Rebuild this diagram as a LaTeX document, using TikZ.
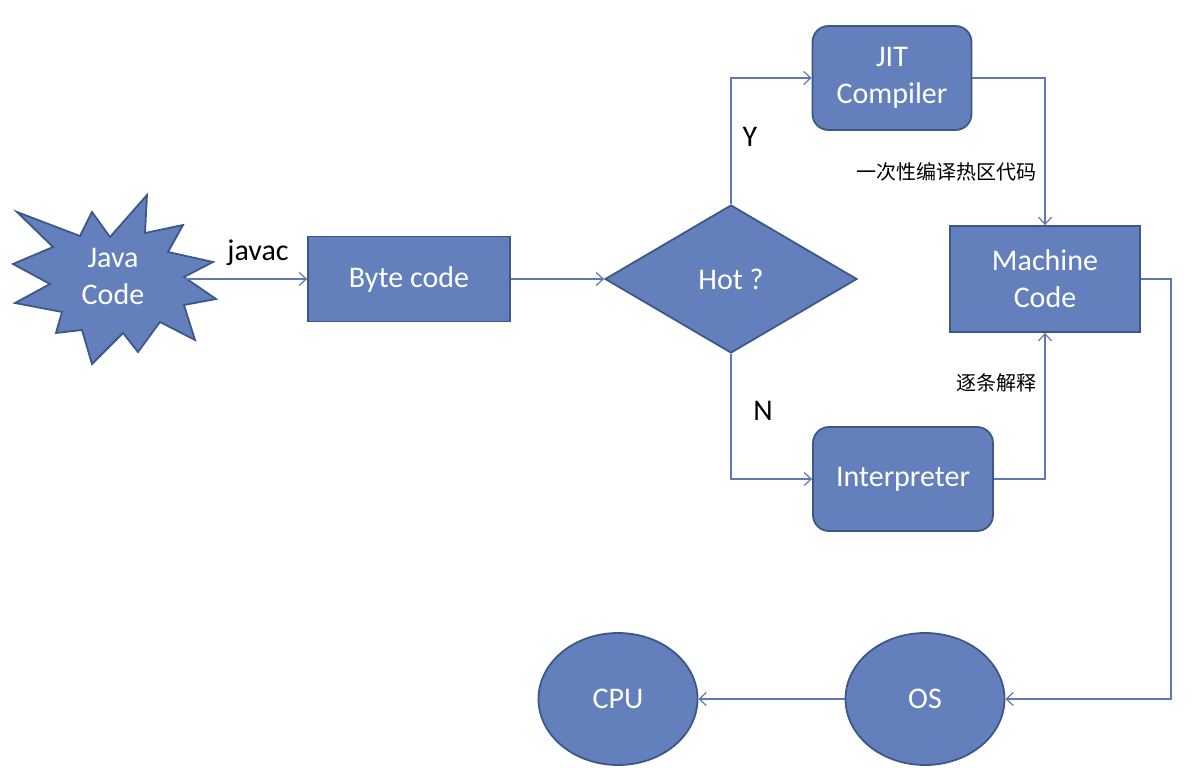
\documentclass[tikz,border=0pt]{standalone}
\usepackage{fontspec}
\setmainfont{Carlito}
\newfontfamily\cjk{Noto Sans CJK SC}
\usepackage{tikz}
\usetikzlibrary{shapes.geometric,arrows.meta}
\definecolor{boxfill}{RGB}{99,128,188}
\definecolor{boxline}{RGB}{60,88,138}
\definecolor{connline}{RGB}{92,122,176}
\begin{document}
\begin{tikzpicture}[
    x=1pt, y=-1pt,
    box/.style={draw=boxline, line width=1.8pt, fill=boxfill, text=white,
      font=\fontsize{30}{37}\selectfont, align=center, inner sep=0pt},
    rbox/.style={box, rounded corners=16pt},
    ball/.style={box, ellipse, minimum width=159pt, minimum height=132pt},
    conn/.style={draw=connline, line width=1.2pt,
      -{Straight Barb[length=7pt,width=13pt,line width=1.2pt]}},
    lbl/.style={font=\fontsize{30}{36}\selectfont, inner sep=0pt},
    note/.style={font=\cjk\fontsize{20}{24}\selectfont, inner sep=0pt, anchor=east}
    ]
    \useasboundingbox (0,0) rectangle (1200,768);
    \draw[boxline, line width=1.8pt, fill=boxfill, line join=miter]
      (17,212) -- (80,236) -- (92,212) -- (110,237) -- (147,195) -- (145,233)
      -- (183,225) -- (168,252) -- (213,262) -- (184,277) -- (216,299)
      -- (184,305) -- (195,340) -- (160,322) -- (138,352) -- (123,333)
      -- (92,364) -- (82,330) -- (56,333) -- (62,312) -- (15,303)
      -- (50,284) -- (13,264) -- (53,247) -- cycle;
    \node[box, draw=none, fill=none] (java) at (113,276) {Java\\Code};
    \coordinate (javaout) at (184,279);
    \node[box, minimum width=202pt, minimum height=85pt] (byte) at (409,279) {Byte code};
    \node[box, diamond, minimum width=252pt, minimum height=148pt] (hot) at (731,279) {Hot ?};
    \node[rbox, minimum width=159pt, minimum height=104pt] (jit) at (892,78) {JIT\\Compiler};
    \node[box, minimum width=190pt, minimum height=106pt] (machine) at (1045,279) {Machine\\Code};
    \node[rbox, minimum width=180pt, minimum height=104pt] (interp) at (903,479) {Interpreter};
    \node[ball] (os) at (925,699) {OS};
    \node[ball] (cpu) at (618,699) {CPU};
    \draw[conn] (javaout) -- (byte);
    \node[lbl] (javac) at (258,253) {javac};
    \draw[conn] (byte) -- (hot);
    \draw[conn] (hot.north) |- (jit.west);
    \draw[conn] (hot.south) |- (interp.west);
    \node[lbl] (yes) at (750,137) {Y};
    \node[lbl] (no) at (763,411) {N};
    \draw[conn] (jit.east) -| (machine.north);
    \draw[conn] (interp.east) -| (machine.south);
    \node[note] (hotnote) at (1037,172) {一次性编译热区代码};
    \node[note] (linenote) at (1037,383) {逐条解释};
    \draw[conn] (machine.east) -- ++(30,0) |- (os.east);
    \draw[conn] (os) -- (cpu);
\end{tikzpicture}
\end{document}
